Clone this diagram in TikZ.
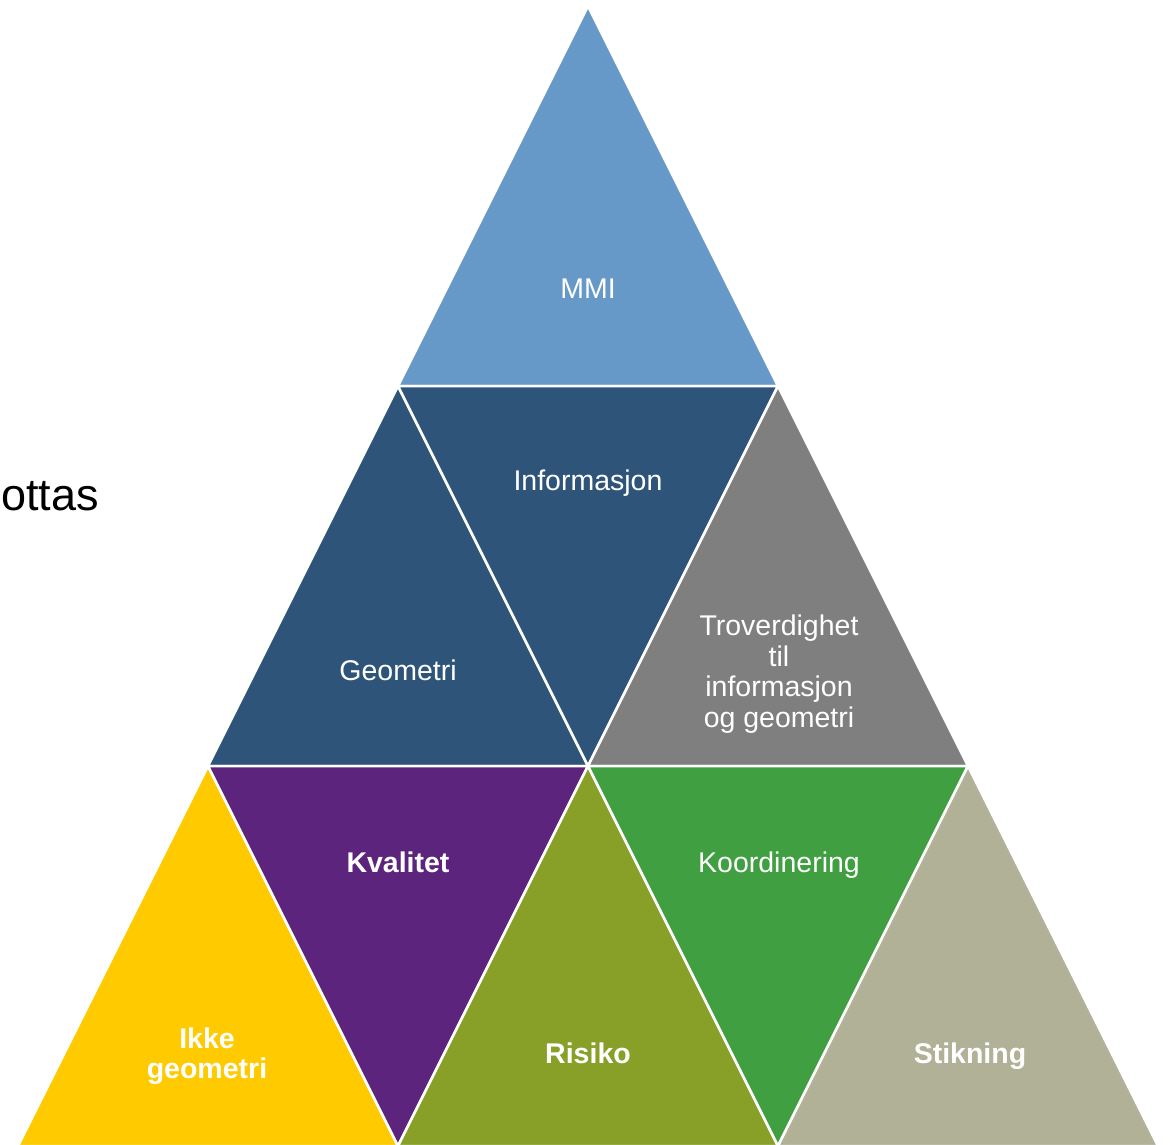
\documentclass[tikz,border=0pt]{standalone}
\usepackage{fontspec}
\setmainfont{Liberation Sans}
\definecolor{cMMI}{HTML}{6799C8}
\definecolor{cDark}{HTML}{2E5579}
\definecolor{cGrey}{HTML}{7F7F7F}
\definecolor{cYellow}{HTML}{FFCA00}
\definecolor{cPurple}{HTML}{5C247C}
\definecolor{cOlive}{HTML}{88A027}
\definecolor{cGreen}{HTML}{3F9F41}
\definecolor{cKhaki}{HTML}{B0B196}
\tikzset{
  tri/.style={draw=white, line width=2.5pt, line join=miter},
  lbl/.style={text=white, align=center, inner sep=0pt, font=\fontsize{28.5}{30.5}\selectfont},
  blbl/.style={lbl, font=\fontsize{28.5}{30.5}\selectfont\bfseries},
}
\begin{document}
\begin{tikzpicture}[x=1pt,y=-1pt]
\useasboundingbox (0,0) rectangle (1170,1145);
% row 0
\fill[cMMI, tri] (588,6) -- (778,386) -- (398,386) -- cycle;
% row 1
\fill[cDark, tri] (398,386) -- (588,766) -- (208,766) -- cycle;
\fill[cDark, tri] (398,386) -- (778,386) -- (588,766) -- cycle;
\fill[cGrey, tri] (778,386) -- (968,766) -- (588,766) -- cycle;
% row 2
\fill[cYellow, tri] (208,766) -- (398,1146) -- (18,1146) -- cycle;
\fill[cPurple, tri] (208,766) -- (588,766) -- (398,1146) -- cycle;
\fill[cOlive, tri] (588,766) -- (778,1146) -- (398,1146) -- cycle;
\fill[cGreen, tri] (588,766) -- (968,766) -- (778,1146) -- cycle;
\fill[cKhaki, tri] (968,766) -- (1158,1146) -- (778,1146) -- cycle;
% labels
\node[lbl] (mmi) at (588,289) {MMI};
\node[lbl] (info) at (588,483) {Informasjon};
\node[lbl] (geo) at (398,670) {Geometri};
\node[lbl] (trov) at (779,674) {Troverdighet\\til\\informasjon\\og geometri};
\node[blbl] (kval) at (398,862) {Kvalitet};
\node[lbl] (koord) at (779,865) {Koordinering};
\node[blbl] (ikke) at (207,1056) {Ikke\\geometri};
\node[blbl] (risiko) at (588,1053) {Risiko};
\node[blbl] (stik) at (970,1056) {Stikning};
\node[anchor=base west, inner sep=0pt, font=\fontsize{45}{48}\selectfont] (ottas) at (1,510) {ottas};
\end{tikzpicture}
\end{document}
